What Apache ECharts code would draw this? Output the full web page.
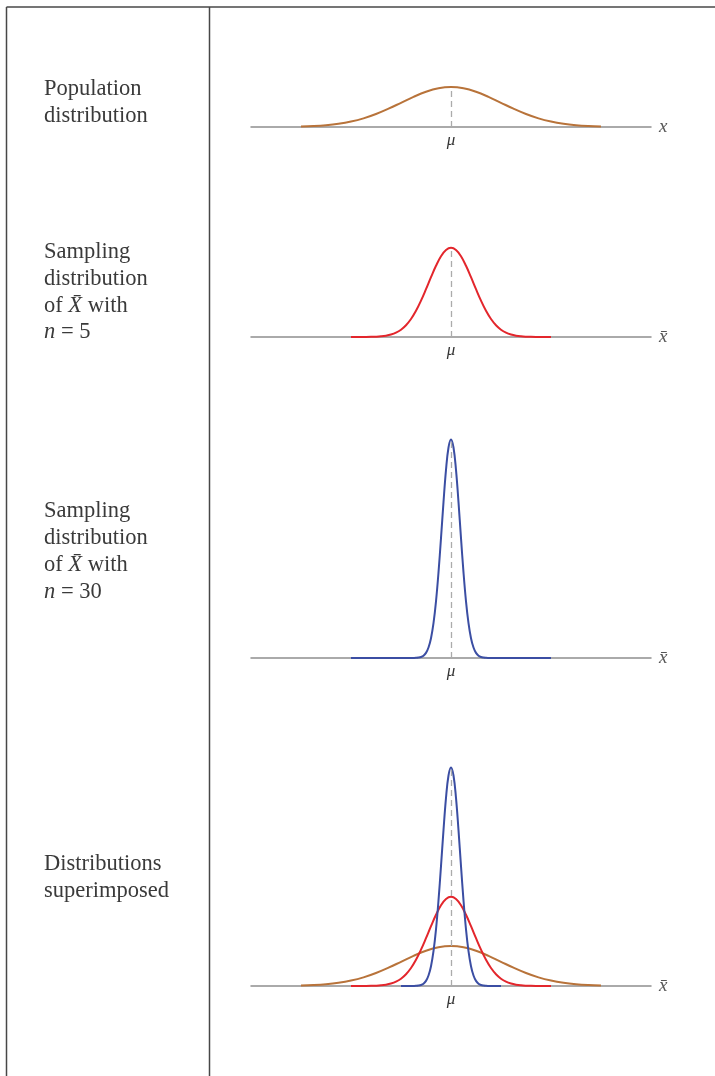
<!DOCTYPE html>
<html>
<head>
<meta charset="utf-8">
<script src="https://cdn.jsdelivr.net/npm/echarts@6/dist/echarts.min.js"></script>
<style>
html,body{margin:0;padding:0;background:#fff;}
#c{width:715px;height:1076px;}
</style>
</head>
<body>
<div id="c"></div>
<script>
// ---- data (x in population-sigma units, y = density) ----
var popX = [-3,-2.75,-2.5,-2.25,-2,-1.75,-1.5,-1.25,-1,-0.75,-0.5,-0.25,0,0.25,0.5,0.75,1,1.25,1.5,1.75,2,2.25,2.5,2.75,3];
var popY = [0.0044,0.0091,0.0175,0.0317,0.054,0.0863,0.130,0.183,0.242,0.301,0.352,0.387,0.399,0.387,0.352,0.301,0.242,0.183,0.130,0.0863,0.054,0.0317,0.0175,0.0091,0.0044];

var n5X = [-2,-1.9,-1.8,-1.7,-1.6,-1.5,-1.4,-1.3,-1.2,-1.1,-1,-0.9,-0.8,-0.7,-0.6,-0.5,-0.4,-0.3,-0.2,-0.1,0,0.1,0.2,0.3,0.4,0.5,0.6,0.7,0.8,0.9,1,1.1,1.2,1.3,1.4,1.5,1.6,1.7,1.8,1.9,2];
var n5Y = [0,0.0001,0.0003,0.0006,0.0015,0.0032,0.0066,0.0130,0.0244,0.0433,0.0732,0.118,0.180,0.262,0.363,0.478,0.598,0.712,0.807,0.870,0.892,0.870,0.807,0.712,0.598,0.478,0.363,0.262,0.180,0.118,0.0732,0.0433,0.0244,0.0130,0.0066,0.0032,0.0015,0.0006,0.0003,0.0001,0];

var n30X = [-1,-0.95,-0.9,-0.85,-0.8,-0.75,-0.7,-0.65,-0.6,-0.55,-0.5,-0.45,-0.4,-0.35,-0.3,-0.25,-0.2,-0.15,-0.1,-0.05,0,0.05,0.1,0.15,0.2,0.25,0.3,0.35,0.4,0.45,0.5,0.55,0.6,0.65,0.7,0.75,0.8,0.85,0.9,0.95,1];
var n30Y = [0,0,0,0,0.0001,0.0005,0.0014,0.0039,0.0099,0.0234,0.0514,0.105,0.198,0.348,0.566,0.856,1.199,1.559,1.881,2.105,2.185,2.105,1.881,1.559,1.199,0.856,0.566,0.348,0.198,0.105,0.0514,0.0234,0.0099,0.0039,0.0014,0.0005,0.0001,0,0,0,0];
// panel 3 draws the n=30 curve over a wider range (flat tails)
var n30WideX = [-2,-1.75,-1.5,-1.25].concat(n30X).concat([1.25,1.5,1.75,2]);
var n30WideY = [0,0,0,0].concat(n30Y).concat([0,0,0,0]);

var axisNames = ['x', 'x\u0304', 'x\u0304', 'x\u0304'];
var muLabel = '\u03bc';

function pairs(xs, ys){ return xs.map(function(x,i){ return [x, ys[i]]; }); }

var BROWN = '#b8733a', RED = '#e3262c', BLUE = '#3b4ea3';
var SERIF = '"Liberation Serif", "DejaVu Serif", serif';

// panel geometry: axis baseline y, plot height (100 px per density unit)
var panels = [
  {base: 127, h: 50},
  {base: 337, h: 100},
  {base: 658, h: 230},
  {base: 986, h: 230}
];

var grids = [], xAxes = [], yAxes = [];
panels.forEach(function(p, i){
  grids.push({left: 251, width: 400, top: p.base - p.h, height: p.h});
  xAxes.push({
    type: 'value', gridIndex: i, min: -4, max: 4, interval: 4,
    axisLine: {show: true, onZero: false, lineStyle: {color: '#8e8e8e', width: 1.5}},
    axisTick: {show: false}, splitLine: {show: false},
    axisLabel: {
      margin: 5, color: '#333', fontFamily: SERIF, fontStyle: 'italic', fontSize: 17,
      formatter: function(v){ return v === 0 ? muLabel : ''; }
    },
    name: axisNames[i], nameLocation: 'end', nameGap: 8,
    nameTextStyle: {color: '#555', fontFamily: SERIF, fontStyle: 'italic', fontSize: 19, verticalAlign: 'middle', padding: [8,0,0,0]}
  });
  yAxes.push({type: 'value', gridIndex: i, min: 0, max: p.h / 100, show: false});
});

function curve(i, xs, ys, color, withMark){
  var s = {
    type: 'line', xAxisIndex: i, yAxisIndex: i, data: pairs(xs, ys),
    showSymbol: false, smooth: 0.4, lineStyle: {color: color, width: 2}, itemStyle: {color: color},
    silent: true, animation: false, z: 3
  };
  if (withMark) {
    s.markLine = {
      silent: true, symbol: 'none', animation: false,
      lineStyle: {color: '#ababab', type: [6, 4], width: 1.3},
      label: {show: false},
      data: [[{coord: [0, 0]}, {coord: [0, Math.max.apply(null, ys)]}]]
    };
  }
  return s;
}

var series = [
  curve(0, popX, popY, BROWN, true),
  curve(1, n5X, n5Y, RED, true),
  curve(2, n30WideX, n30WideY, BLUE, true),
  curve(3, popX, popY, BROWN, false),
  curve(3, n5X, n5Y, RED, false),
  curve(3, n30X, n30Y, BLUE, true)
];

// left-hand labels
var FONT = '22.5px ' + SERIF, INK = '#3a3a3a';
function txt(t, y){
  return {type: 'text', left: 44, top: y - 11, style: {text: t, font: FONT, fill: INK}};
}
function richTxt(t, y, rich){
  return {type: 'text', left: 44, top: y - 11, style: {text: t, font: FONT, fill: INK, rich: rich}};
}
var rich = {
  r: {fontFamily: SERIF, fontSize: 22.5, fill: INK},
  i: {fontFamily: SERIF, fontSize: 22.5, fontStyle: 'italic', fill: INK}
};

var graphics = [
  // title (cut off at top)
  {type: 'text', left: 20, top: -21.5, style: {text: 'Sampling Distributions of the Sample Mean from a Normal Population', font: 'italic bold 22px ' + SERIF, fill: '#c9944a'}},
  // table borders
  {type: 'line', shape: {x1: 6.5, y1: 7, x2: 715, y2: 7}, style: {stroke: '#474747', lineWidth: 1.5}},
  {type: 'line', shape: {x1: 6.5, y1: 7, x2: 6.5, y2: 1076}, style: {stroke: '#474747', lineWidth: 1.5}},
  {type: 'line', shape: {x1: 209.5, y1: 7, x2: 209.5, y2: 1076}, style: {stroke: '#474747', lineWidth: 1.5}},
  txt('Population', 89), txt('distribution', 116),
  txt('Sampling', 252), txt('distribution', 279),
  richTxt('{r|of }{i|X\u0304}{r| with}', 306, rich),
  richTxt('{i|n}{r| = 5}', 332, rich),
  txt('Sampling', 511), txt('distribution', 538),
  richTxt('{r|of }{i|X\u0304}{r| with}', 565, rich),
  richTxt('{i|n}{r| = 30}', 592, rich),
  txt('Distributions', 864), txt('superimposed', 891)
];

var chart = echarts.init(document.getElementById('c'), null, {renderer: 'canvas'});
chart.setOption({
  backgroundColor: '#fff',
  animation: false,
  grid: grids, xAxis: xAxes, yAxis: yAxes,
  series: series,
  graphic: graphics
});
</script>
</body>
</html>
